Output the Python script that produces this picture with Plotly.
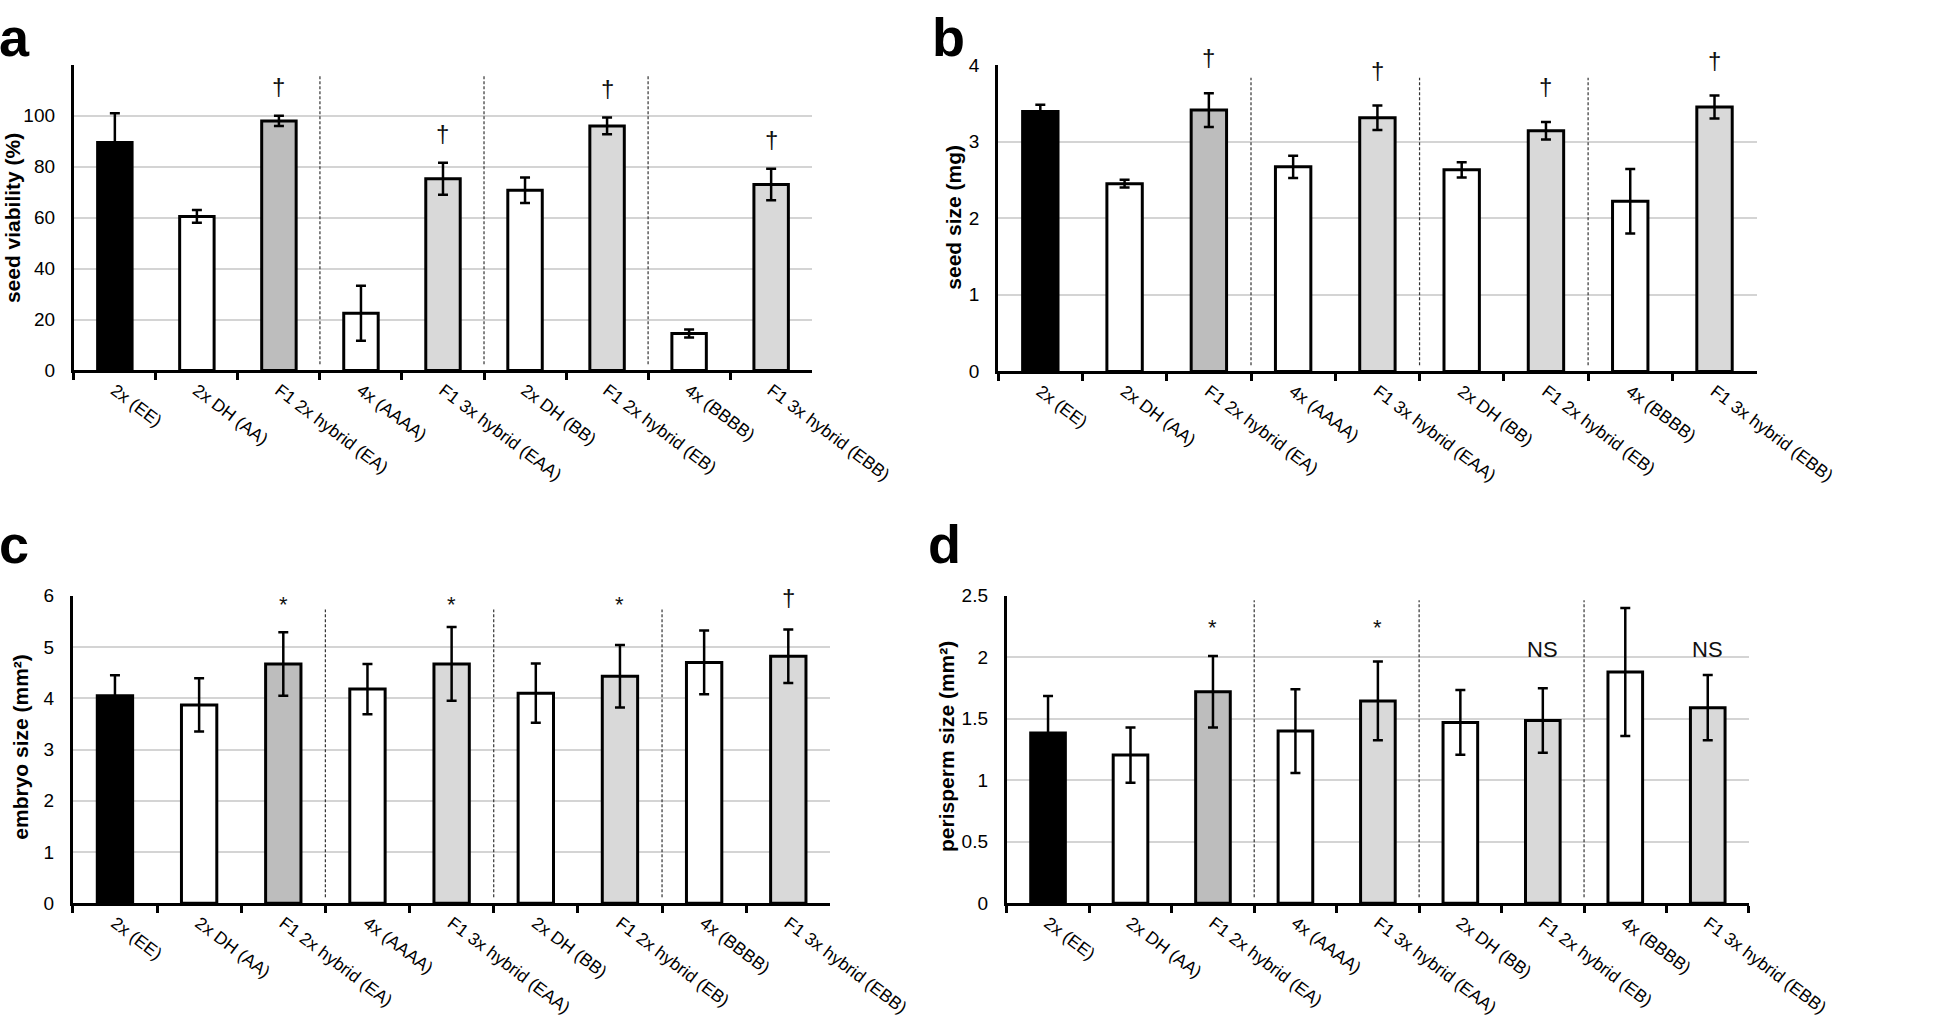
import plotly.graph_objects as go

# ---------------- data ----------------
categories = ["2x (EE)", "2x DH (AA)", "F1 2x hybrid (EA)", "4x (AAAA)",
              "F1 3x hybrid (EAA)", "2x DH (BB)", "F1 2x hybrid (EB)",
              "4x (BBBB)", "F1 3x hybrid (EBB)"]

seed_viability = [89.5, 60.5, 98.0, 22.5, 75.3, 70.8, 96.0, 14.5, 73.0]
seed_viability_err = [11.5, 2.5, 2.0, 10.8, 6.3, 5.0, 3.3, 1.6, 6.2]

seed_size = [3.39, 2.45, 3.41, 2.67, 3.31, 2.63, 3.14, 2.22, 3.45]
seed_size_err = [0.09, 0.05, 0.22, 0.145, 0.16, 0.10, 0.115, 0.42, 0.15]

embryo_size = [4.05, 3.87, 4.67, 4.18, 4.67, 4.10, 4.43, 4.70, 4.82]
embryo_size_err = [0.40, 0.52, 0.62, 0.49, 0.72, 0.58, 0.61, 0.62, 0.52]

perisperm_size = [1.385, 1.205, 1.72, 1.40, 1.645, 1.47, 1.486, 1.88, 1.59]
perisperm_size_err = [0.30, 0.225, 0.29, 0.34, 0.32, 0.263, 0.263, 0.52, 0.265]

marks_a = ["", "", "†", "", "†", "", "†", "", "†"]
marks_b = ["", "", "†", "", "†", "", "†", "", "†"]
marks_c = ["", "", "*", "", "*", "", "*", "", "†"]
marks_d = ["", "", "*", "", "*", "", "NS", "", "NS"]

# ---------------- styling / layout config ----------------
W, H = 1945, 1024
FONT = "Liberation Sans, Arial, sans-serif"
bar_colors = ["#000000", "#ffffff", "#bdbdbd", "#ffffff", "#d9d9d9",
              "#ffffff", "#d9d9d9", "#ffffff", "#d9d9d9"]

# pixel boxes of each panel: (x0, x1, ytop, ybottom)
panels = [
    dict(key="a", box=(77, 847, 56, 368), vals=seed_viability, errs=seed_viability_err,
         marks=marks_a, title="seed viability (%)", rng=[0, 120],
         tickvals=[0, 20, 40, 60, 80, 100, 120], ticktext=["0", "20", "40", "60", "80", "100", ""],
         letter_pos=(-3, -5), title_pos=(13, 212), mark_offset=11.5, mark_level=None,
         dash_top=0.965),
    dict(key="b", box=(1041, 1832, 56, 369), vals=seed_size, errs=seed_size_err,
         marks=marks_b, title="seed size (mg)", rng=[0, 4],
         tickvals=[0, 1, 2, 3, 4], ticktext=["0", "1", "2", "3", "4"],
         letter_pos=(970, -5), title_pos=(995, 212), mark_offset=0.46, mark_level=None,
         dash_top=0.958),
    dict(key="c", box=(76, 866, 598, 912), vals=embryo_size, errs=embryo_size_err,
         marks=marks_c, title="embryo size (mm²)", rng=[0, 6],
         tickvals=[0, 1, 2, 3, 4, 5, 6], ticktext=["0", "1", "2", "3", "4", "5", "6"],
         letter_pos=(-3, 513), title_pos=(21, 752), mark_offset=None,
         mark_level={"*": 5.83, "†": 5.96}, dash_top=0.955),
    dict(key="d", box=(1050, 1824, 598, 912), vals=perisperm_size, errs=perisperm_size_err,
         marks=marks_d, title="perisperm size (mm²)", rng=[0, 2.5],
         tickvals=[0, 0.5, 1, 1.5, 2, 2.5], ticktext=["0", "0.5", "1", "1.5", "2", "2.5"],
         letter_pos=(966, 513), title_pos=(987, 752), mark_offset=None,
         mark_level={"*": 2.24, "NS": 2.06}, dash_top=0.985),
]

fig = go.Figure()
annotations = []
shapes = []
layout_axes = {}

for i, p in enumerate(panels):
    n = "" if i == 0 else str(i + 1)
    xa, ya = "x" + n, "y" + n
    x0, x1, yt, yb = p["box"]
    fig.add_trace(go.Bar(
        x=categories, y=p["vals"], xaxis=xa, yaxis=ya,
        width=0.42,
        marker=dict(color=bar_colors, line=dict(color="black", width=3)),
        error_y=dict(type="data", array=p["errs"], color="black",
                     thickness=2.5, width=5),
        showlegend=False, hoverinfo="x+y",
    ))
    layout_axes["xaxis" + n] = dict(
        domain=[x0 / W, x1 / W], anchor=ya, type="category",
        range=[-0.5, 8.5], showline=True, linecolor="black", linewidth=3,
        ticks="outside", tickson="boundaries", ticklen=7, tickwidth=2.5,
        tickcolor="black", tickangle=37, showgrid=False, zeroline=False,
        tickfont=dict(family=FONT, size=17.5, color="black"),
    )
    layout_axes["yaxis" + n] = dict(
        domain=[1 - yb / H, 1 - yt / H], anchor=xa, range=p["rng"],
        showline=True, linecolor="black", linewidth=3,
        showgrid=True, gridcolor="#d4d4d4", gridwidth=2, zeroline=False,
        tickvals=p["tickvals"], ticktext=p["ticktext"], ticks="",
        ticklabelstandoff=12,
        tickfont=dict(family=FONT, size=19, color="black"),
    )
    # panel letter
    lx, ly = p["letter_pos"]
    annotations.append(dict(
        text="<b>%s</b>" % p["key"], xref="paper", yref="paper",
        x=lx / W, y=1 - ly / H, xanchor="left", yanchor="top",
        showarrow=False, font=dict(family=FONT, size=54, color="black")))
    # y title
    tx, ty = p["title_pos"]
    annotations.append(dict(
        text="<b>%s</b>" % p["title"], xref="paper", yref="paper",
        x=tx / W, y=1 - ty / H, xanchor="center", yanchor="middle",
        textangle=-90, showarrow=False,
        font=dict(family=FONT, size=21, color="black")))
    # significance marks (placed in axis-domain units so they may sit above the plot)
    top = p["rng"][1]
    for j, m in enumerate(p["marks"]):
        if not m:
            continue
        if p["mark_offset"] is not None:
            my = p["vals"][j] + p["errs"][j] + p["mark_offset"]
        else:
            my = p["mark_level"][m]
        size = {"NS": 22, "†": 24, "*": 22}[m]
        annotations.append(dict(
            text=m, x=j, y=my / top, xref=xa, yref=ya + " domain",
            xanchor="center", yanchor="middle", showarrow=False,
            font=dict(family=FONT, size=size, color="#111111")))
    # dashed group separators
    for bx in (2.5, 4.5, 6.5):
        shapes.append(dict(
            type="line", xref=xa, yref=ya + " domain", x0=bx, x1=bx,
            y0=0.02, y1=p["dash_top"],
            line=dict(color="#333333", width=1.2, dash="3px,2px")))

fig.update_layout(
    width=W, height=H, autosize=False,
    margin=dict(l=0, r=0, t=0, b=0),
    paper_bgcolor="white", plot_bgcolor="white",
    annotations=annotations, shapes=shapes,
    font=dict(family=FONT, color="black"),
    **layout_axes,
)

fig.write_html(
    "out.html",
    config={"displayModeBar": False},
    post_script="document.body.style.margin='0';document.body.style.padding='0';"
                "document.documentElement.style.overflow='hidden';",
)
